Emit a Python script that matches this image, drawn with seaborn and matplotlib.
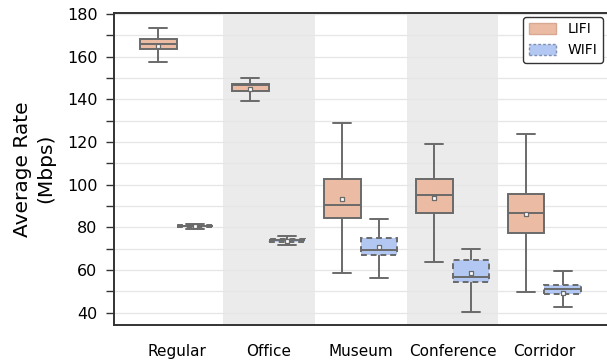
import numpy as np
import pandas as pd
import matplotlib
matplotlib.use("Agg")
import matplotlib.pyplot as plt
from matplotlib.patches import Patch
from matplotlib.colors import to_rgb
import seaborn as sns

scenarios = ["Regular", "Office", "Museum", "Conference", "Corridor"]
techs = ["LIFI", "WIFI"]

# five-number summaries per scenario: min, q1, median, q3, max
lifi_stats = [
    [157.3, 163.8, 166.1, 168.2, 173.6],
    [139.4, 144.0, 146.6, 147.4, 149.8],
    [58.4, 84.2, 90.5, 102.5, 128.8],
    [63.7, 86.9, 95.1, 102.5, 119.2],
    [49.5, 77.2, 86.6, 95.8, 123.6],
]
wifi_stats = [
    [79.4, 80.2, 80.7, 81.1, 81.5],
    [71.9, 73.1, 73.9, 74.4, 76.0],
    [56.2, 67.2, 69.2, 75.0, 83.7],
    [40.5, 54.5, 56.8, 64.5, 69.8],
    [42.8, 48.6, 51.2, 53.1, 59.4],
]
lifi_means = [165.0, 145.0, 93.3, 93.7, 86.2]
wifi_means = [80.5, 73.8, 70.6, 58.7, 49.3]

lifi_color = "#ECBBA3"
wifi_color = "#B2C8F2"
line_color = "#6A6A6A"

rows = []
for tech, stats in zip(techs, [lifi_stats, wifi_stats]):
    for scen, vals in zip(scenarios, stats):
        for v in vals:
            rows.append({"Scenario": scen, "Tech": tech, "Rate": v})
df = pd.DataFrame(rows)

mean_rows = []
for tech, means in zip(techs, [lifi_means, wifi_means]):
    for scen, m in zip(scenarios, means):
        mean_rows.append({"Scenario": scen, "Tech": tech, "Rate": m})
mdf = pd.DataFrame(mean_rows)

sns.set_style("ticks")
plt.rcParams["font.family"] = ["DejaVu Sans"]
plt.rcParams["text.color"] = "black"
plt.rcParams["axes.labelcolor"] = "black"
plt.rcParams["xtick.color"] = "black"
plt.rcParams["ytick.color"] = "black"

fig = plt.figure(figsize=(6.07, 3.63), dpi=100)
ax = fig.add_axes([0.188, 0.105, 0.812, 0.86])

sns.boxplot(
    data=df, x="Scenario", y="Rate", hue="Tech", order=scenarios, hue_order=techs,
    palette={"LIFI": lifi_color, "WIFI": wifi_color}, saturation=1, whis=(0, 100),
    width=0.8, gap=0.0, linecolor=line_color, linewidth=1.4, fliersize=0,
    legend=False, ax=ax,
)

wifi_rgb = np.array(to_rgb(wifi_color))
for p in ax.patches:
    fc = np.array(p.get_facecolor()[:3])
    if np.allclose(fc, wifi_rgb, atol=0.03):
        p.set_linestyle((0, (3, 2)))

# alternating shaded background bands
for i in range(len(scenarios)):
    if i % 2 == 1:
        ax.axvspan(i - 0.5, i + 0.5, color="#EBEBEB", zorder=0, lw=0)

sns.stripplot(
    data=mdf, x="Scenario", y="Rate", hue="Tech", order=scenarios, hue_order=techs,
    palette={"LIFI": "white", "WIFI": "white"}, dodge=True, jitter=False,
    marker="s", size=3.2, edgecolor=line_color, linewidth=0.9,
    legend=False, ax=ax, zorder=5,
)

ax.set_xlim(-0.68, 4.68)
ax.set_ylim(34.3, 180.6)
ax.set_yticks(np.arange(40, 181, 10))
ax.set_yticklabels([str(v) if v % 20 == 0 else "" for v in range(40, 181, 10)], fontsize=11.5)
ax.tick_params(axis="y", length=6, width=1.0, pad=6, color="#333333")
ax.tick_params(axis="x", length=0, labelsize=11, pad=14)
ax.grid(axis="y", color="#E6E6E6", lw=0.9, zorder=0.5)
ax.set_axisbelow(True)
ax.set_xlabel("")
ax.set_ylabel("Average Rate\n(Mbps)", fontsize=14.5, linespacing=1.3, labelpad=8)

for s in ["left", "bottom", "top"]:
    ax.spines[s].set_linewidth(1.4)
    ax.spines[s].set_color("#333333")
ax.spines["right"].set_visible(False)

handles = [
    Patch(facecolor=lifi_color, edgecolor="#D9A890", lw=1.0, label="LIFI"),
    Patch(facecolor=wifi_color, edgecolor="#7F8FB0", lw=1.0, linestyle=(0, (2, 1.5)), label="WIFI"),
]
leg = ax.legend(handles=handles, loc="upper right", fontsize=10, frameon=True,
                fancybox=True, edgecolor="#333333", framealpha=1,
                handlelength=2.0, handleheight=0.8, borderpad=0.4,
                labelspacing=0.5, handletextpad=0.8,
                bbox_to_anchor=(1.0, 1.0), borderaxespad=0.3)
leg.get_frame().set_linewidth(1.0)

fig.savefig("out.png", dpi=100)
